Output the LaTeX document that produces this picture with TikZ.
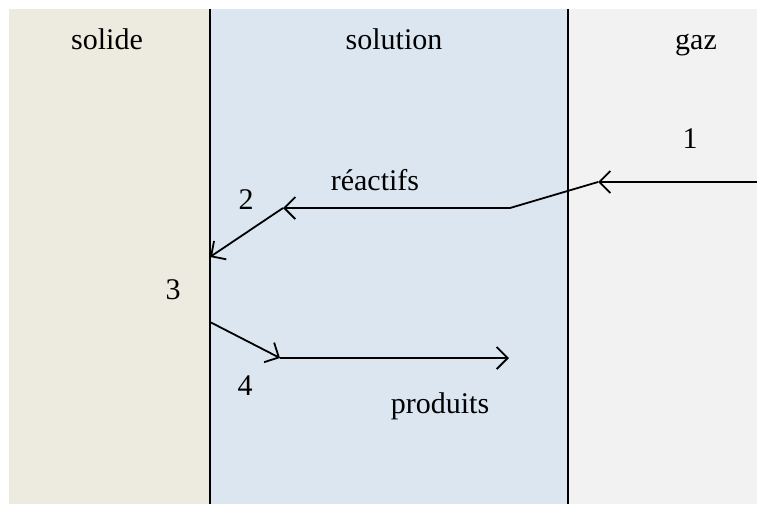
\documentclass[tikz,border=0pt]{standalone}
\usepackage{fontspec}
\setmainfont{Liberation Serif}
\usepackage{xcolor}
\usepackage{tikz}
\usetikzlibrary{arrows.meta}

\definecolor{solidefill}{HTML}{EDEAE0}
\definecolor{solutionfill}{HTML}{DCE6F1}
\definecolor{gazfill}{HTML}{F2F2F2}

\begin{document}
\begin{tikzpicture}[x=1pt, y=-1pt,
    >={Straight Barb[length=11pt, width=22pt]},
    phase/.style={font=\fontsize{30}{34}\selectfont, anchor=base},
    lbl/.style={font=\fontsize{30}{34}\selectfont},
    arrow/.style={->, line width=1.8pt, line join=round},
    wall/.style={line width=1.6pt},
]
\useasboundingbox (0,0) rectangle (757,504);
% the three phases
\fill[solidefill] (9,9) rectangle (210,504);
\fill[solutionfill] (210,9) rectangle (568,504);
\fill[gazfill] (568,9) rectangle (757,504);
\draw[wall] (210,9) -- (210,504);
\draw[wall] (568,9) -- (568,504);
\node[phase] (solide) at (107,49) {solide};
\node[phase] (solution) at (394,49) {solution};
\node[phase] (gaz) at (696,49) {gaz};
% points of the path
\coordinate (g0) at (757,182);
\coordinate (g1) at (598,182);
\coordinate (r0) at (510,208);
\coordinate (r1) at (283,208);
\coordinate (s0) at (210,257);
\coordinate (s1) at (210,322);
\coordinate (p0) at (280,358);
\coordinate (p1) at (509,358);
% reactifs in, produits out
\draw[arrow] (g0) -- (g1);
\draw[line width=1.8pt] (g1) -- (r0);
\draw[arrow] (r0) -- (r1);
\draw[arrow] (r1) -- (s0);
\draw[arrow] (s1) -- (p0);
\draw[arrow] (p0) -- (p1);
% labels
\node[lbl] (n1) at (690,139) {1};
\node[lbl] (reac) at (375,180) {réactifs};
\node[lbl] (n2) at (246,200) {2};
\node[lbl] (n3) at (173,290) {3};
\node[lbl] (n4) at (245,386) {4};
\node[lbl] (prod) at (440,406) {produits};
\end{tikzpicture}
\end{document}
